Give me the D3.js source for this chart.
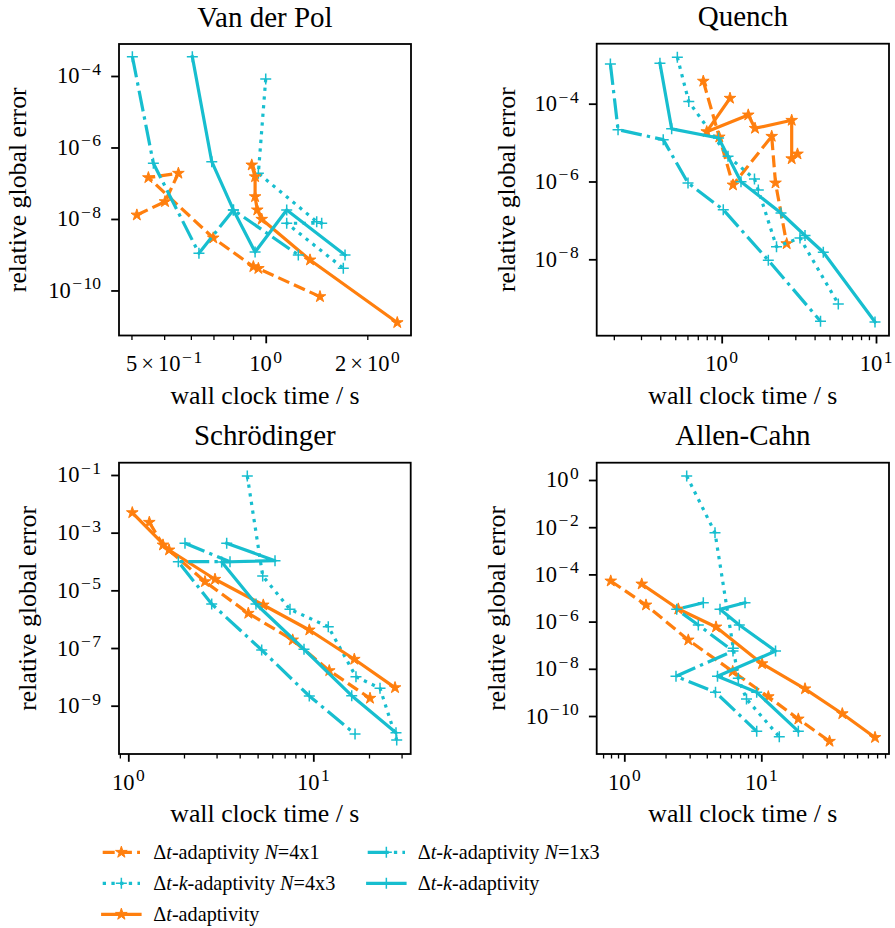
<!DOCTYPE html>
<html>
<head>
<meta charset="utf-8">
<script src="https://cdn.jsdelivr.net/npm/d3@7"></script>
<style>
  body { margin: 0; background: #fff; }
  svg { display: block; }
</style>
</head>
<body>
<svg id="fig" width="895" height="928" font-family="'Liberation Serif', 'DejaVu Serif', serif"></svg>
<script>
// ---- data: [wall clock time (s), relative global error] per method ----
// Van der Pol
const vdpDt4x1   = [[0.415,1.29e-8],[0.503,3.05e-8],[0.551,1.90e-7],[0.449,1.43e-7],[0.699,2.94e-9],[0.919,4.63e-10],[0.951,4.12e-10],[1.448,6.71e-11]];
const vdpDtk4x3  = [[1.0,8.24e-5],[0.951,1.90e-7],[1.416,8.4e-9],[1.465,7.58e-9],[1.154,7.58e-9],[1.698,4.18e-10]];
const vdpDt      = [[0.909,3.24e-7],[0.930,1.52e-7],[0.930,4.21e-8],[0.944,1.79e-8],[0.973,9.82e-9],[1.353,7.13e-10],[2.454,1.26e-11]];
const vdpDtk1x3  = [[0.4025,3.47e-4],[0.4645,3.61e-7],[0.634,1.10e-9],[0.802,1.79e-8],[1.249,9.84e-10]];
const vdpDtk     = [[0.606,3.47e-4],[0.692,4.01e-7],[0.802,1.79e-8],[0.930,1.19e-9],[1.154,1.79e-8],[1.718,9.84e-10]];
// Quench
const quenchDt4x1  = [[0.760,3.79e-4],[0.965,1.39e-5],[1.184,8.13e-7],[2.109,1.45e-5],[2.232,9.15e-7],[2.638,2.52e-8]];
const quenchDtk4x3 = [[0.516,1.56e-3],[0.612,1.13e-4],[1.099,4.45e-6],[1.631,1.16e-6],[1.727,6.04e-7],[2.266,2.11e-8],[3.217,3.53e-8],[5.697,7.10e-10]];
const quenchDt     = [[1.132,1.38e-4],[0.800,1.91e-5],[1.487,5.13e-5],[1.644,2.33e-5],[2.842,3.74e-5],[2.842,3.84e-6],[3.099,5.09e-6]];
const quenchDtk1x3 = [[0.190,1.05e-3],[0.213,2.15e-5],[0.418,1.19e-5],[0.605,9.15e-7],[1.024,1.88e-7],[2.005,9.42e-9],[4.369,2.56e-10]];
const quenchDtk    = [[0.398,1.09e-3],[0.474,2.26e-5],[0.955,1.31e-5],[1.334,9.88e-7],[2.423,1.55e-7],[3.467,4.09e-8],[4.555,1.52e-8],[9.851,2.44e-10]];
// Schrödinger
const schrDt4x1  = [[1.299,2.29e-3],[1.540,3.74e-4],[2.597,2.00e-5],[4.453,1.60e-6],[7.737,1.90e-7],[12.20,1.64e-8],[20.25,1.81e-9]];
const schrDtk4x3 = [[4.398,9.23e-2],[5.327,3.15e-5],[7.482,2.20e-6],[12.05,5.49e-7],[17.01,1.01e-8],[22.94,4.02e-9],[28.24,6.47e-11]];
const schrDt     = [[1.051,4.93e-3],[1.660,2.51e-4],[2.942,2.42e-5],[5.366,3.10e-6],[9.515,4.22e-7],[16.66,4.07e-8],[27.65,4.22e-9]];
const schrDtk1x3 = [[2.025,4.29e-4],[3.546,9.86e-5],[1.864,9.86e-5],[2.824,3.37e-6],[5.260,8.55e-8],[9.515,2.17e-9],[16.81,1.04e-10]];
const schrDtk    = [[3.403,4.29e-4],[6.209,1.07e-4],[3.198,9.62e-5],[4.900,3.37e-6],[8.907,9.04e-8],[16.13,2.22e-9],[27.99,1.16e-10]];
// Allen-Cahn
const acDt4x1  = [[0.796,5.25e-5],[1.440,5.05e-6],[2.932,1.66e-7],[6.183,7.7e-9],[11.25,6.58e-10],[18.63,7.46e-11],[31.47,8.47e-12]];
const acDtk4x3 = [[2.854,1.48],[4.592,5.85e-3],[6.246,7.39e-8],[6.794,3.95e-9],[7.798,5.25e-10],[13.53,1.33e-11]];
const acDt     = [[1.340,3.92e-5],[2.479,3.42e-6],[4.670,5.91e-7],[10.12,1.64e-8],[20.84,1.42e-9],[39.01,1.25e-10],[67.60,1.23e-11]];
const acDtk1x3 = [[3.773,6.32e-6],[2.413,3.32e-6],[3.469,7.18e-7],[6.215,5.68e-8],[2.384,4.81e-9],[4.631,1.01e-9],[9.256,2.25e-11]];
const acDtk    = [[7.603,6.32e-6],[4.995,3.32e-6],[6.910,7.18e-7],[12.70,5.68e-8],[4.790,4.81e-9],[9.256,1.01e-9],[18.63,2.25e-11]];

// ---- tick values ----
const vdpXMajor = [1], vdpXMinor = [0.4,0.5,0.6,0.7,0.8,0.9,2], vdpXMinorLabeled = [0.5,2];
const vdpYTicks = [1e-4,1e-6,1e-8,1e-10];
const quenchXMajor = [1,10], quenchXMinor = [0.2,0.3,0.4,0.5,0.6,0.7,0.8,0.9,2,3,4,5,6,7,8,9];
const quenchYTicks = [1e-4,1e-6,1e-8];
const schrXMajor = [1,10], schrXMinor = [0.9,2,3,4,5,6,7,8,9,20,30];
const schrYTicks = [1e-1,1e-3,1e-5,1e-7,1e-9];
const acXMajor = [1,10], acXMinor = [0.7,0.8,0.9,2,3,4,5,6,7,8,9,20,30,40,50,60,70,80];
const acYTicks = [1,1e-2,1e-4,1e-6,1e-8,1e-10];

// ---- legend labels (rich text: i = italic) ----
const legendLabels = [
  [{t:"Δ"},{t:"t",i:1},{t:"-adaptivity "},{t:"N",i:1},{t:"=4x1"}],
  [{t:"Δ"},{t:"t",i:1},{t:"-"},{t:"k",i:1},{t:"-adaptivity "},{t:"N",i:1},{t:"=4x3"}],
  [{t:"Δ"},{t:"t",i:1},{t:"-adaptivity"}],
  [{t:"Δ"},{t:"t",i:1},{t:"-"},{t:"k",i:1},{t:"-adaptivity "},{t:"N",i:1},{t:"=1x3"}],
  [{t:"Δ"},{t:"t",i:1},{t:"-"},{t:"k",i:1},{t:"-adaptivity"}]
];

// ---- styling of the five methods ----
const ORANGE = "#ff7f0e", CYAN = "#17becf";
const LW = 3.2;
const styles = [
  {color: ORANGE, dash: "12,5.2", marker: "star"},
  {color: CYAN,   dash: "3.3,5.4", marker: "plus"},
  {color: ORANGE, dash: null, marker: "star"},
  {color: CYAN,   dash: "21,5.2,3.3,5.2", marker: "plus"},
  {color: CYAN,   dash: null, marker: "plus"}
];

// ---- panel layout ----
const panels = [
  {title: "Van der Pol", series: [vdpDt4x1, vdpDtk4x3, vdpDt, vdpDtk1x3, vdpDtk],
   left: 119, top: 44, w: 292, h: 291.5,
   xDom: [0.3674, 2.695], yDom: [Math.pow(10,-11.26), Math.pow(10,-3.105)],
   xMajor: vdpXMajor, xMinor: vdpXMinor, xMinorLabeled: vdpXMinorLabeled, yTicks: vdpYTicks, yLabelX: 17},
  {title: "Quench", series: [quenchDt4x1, quenchDtk4x3, quenchDt, quenchDtk1x3, quenchDtk],
   left: 596.7, top: 43.7, w: 292.3, h: 292,
   xDom: [0.1549, 12.14], yDom: [Math.pow(10,-9.964), Math.pow(10,-2.458)],
   xMajor: quenchXMajor, xMinor: quenchXMinor, xMinorLabeled: [], yTicks: quenchYTicks, yLabelX: 506.5},
  {title: "Schrödinger", series: [schrDt4x1, schrDtk4x3, schrDt, schrDtk1x3, schrDtk],
   left: 119, top: 462.7, w: 291.7, h: 291.3,
   xDom: [0.8907, 33.61], yDom: [Math.pow(10,-10.675), Math.pow(10,-0.574)],
   xMajor: schrXMajor, xMinor: schrXMinor, xMinorLabeled: [], yTicks: schrYTicks, yLabelX: 27.7},
  {title: "Allen-Cahn", series: [acDt4x1, acDtk4x3, acDt, acDtk1x3, acDtk],
   left: 596.7, top: 462.7, w: 292.3, h: 291.3,
   xDom: [0.6289, 85.5], yDom: [Math.pow(10,-11.61), Math.pow(10,0.733)],
   xMajor: acXMajor, xMinor: acXMinor, xMinorLabeled: [], yTicks: acYTicks, yLabelX: 496}
];

const svg = d3.select("#fig");
const FONT = "'Liberation Serif', 'DejaVu Serif', serif";
const TICK_FS = 22.5, SUP_FS = 17.5, LABEL_FS = 25.8, TITLE_FS = 29, LEGEND_FS = 20.2;

// writes "10^e" or "m × 10^e" with a raised exponent
function sciLabel(sel, v) {
  const e = Math.floor(Math.log10(v) + 1e-9);
  const m = Math.round(v / Math.pow(10, e));
  if (m !== 1) {
    sel.append("tspan").text(m);
    sel.append("tspan").attr("dx", 4).text("×");
    sel.append("tspan").attr("dx", 4).text("10");
  } else {
    sel.append("tspan").text("10");
  }
  if (e < 0) {
    sel.append("tspan").attr("dx", 1.5).attr("dy", -8.5).attr("font-size", SUP_FS).text("−");
    sel.append("tspan").attr("dx", 1.5).attr("font-size", SUP_FS).text(String(-e));
  } else {
    sel.append("tspan").attr("dx", 1.5).attr("dy", -8.5).attr("font-size", SUP_FS).text(String(e));
  }
}
function txt(parent) { return parent.append("text").attr("font-family", FONT).attr("fill", "#000"); }

function starPath() { return d3.symbol().type(d3.symbolStar).size(42)(); }
const plusPath = "M-5.5,0H5.5M0,-5.5V5.5";

panels.forEach(p => {
  const x = d3.scaleLog().domain(p.xDom).range([p.left, p.left + p.w]);
  const y = d3.scaleLog().domain(p.yDom).range([p.top + p.h, p.top]);
  const g = svg.append("g");

  // ticks (outward, left and bottom)
  const bottom = p.top + p.h;
  const axMinor = g.append("g").attr("transform", `translate(0,${bottom})`)
    .call(d3.axisBottom(x).tickValues(p.xMinor).tickSize(4.5).tickFormat(""));
  axMinor.selectAll("line").attr("stroke-width", 1.3);
  const axMajor = g.append("g").attr("transform", `translate(0,${bottom})`)
    .call(d3.axisBottom(x).tickValues(p.xMajor).tickSize(7.8).tickFormat(""));
  axMajor.selectAll("line").attr("stroke-width", 1.8);
  const ayMajor = g.append("g").attr("transform", `translate(${p.left},0)`)
    .call(d3.axisLeft(y).tickValues(p.yTicks).tickSize(7.8).tickFormat(""));
  ayMajor.selectAll("line").attr("stroke-width", 1.8);
  g.selectAll(".domain").remove();

  // tick labels
  p.xMajor.concat(p.xMinorLabeled).forEach(v => {
    const t = txt(g).attr("x", x(v)).attr("y", bottom + 35.5)
      .attr("text-anchor", "middle").attr("font-size", TICK_FS);
    sciLabel(t, v);
  });
  p.yTicks.forEach(v => {
    const t = txt(g).attr("x", p.left - 18).attr("y", y(v) + 7.5)
      .attr("text-anchor", "end").attr("font-size", TICK_FS);
    sciLabel(t, v);
  });

  // title and axis labels
  txt(g).attr("x", p.left + p.w / 2).attr("y", p.top - 17.5)
    .attr("text-anchor", "middle").attr("font-size", TITLE_FS).text(p.title);
  txt(g).attr("x", p.left + p.w / 2).attr("y", bottom + 68)
    .attr("text-anchor", "middle").attr("font-size", LABEL_FS).text("wall clock time / s");
  txt(g).attr("transform", `translate(${p.yLabelX},${p.top + p.h / 2}) rotate(-90)`)
    .attr("text-anchor", "middle").attr("dominant-baseline", "central")
    .attr("font-size", LABEL_FS).text("relative global error");

  // data lines with markers
  const line = d3.line().x(d => x(d[0])).y(d => y(d[1]));
  p.series.forEach((data, i) => {
    const s = styles[i];
    g.append("path").datum(data).attr("d", line)
      .attr("fill", "none").attr("stroke", s.color).attr("stroke-width", LW)
      .attr("stroke-dasharray", s.dash)
      .attr("stroke-linecap", s.dash ? "butt" : "square")
      .attr("stroke-linejoin", "round");
    const mk = g.append("g");
    data.forEach(d => {
      if (s.marker === "star") {
        mk.append("path").attr("d", starPath())
          .attr("transform", `translate(${x(d[0])},${y(d[1])})`)
          .attr("fill", s.color).attr("stroke", s.color).attr("stroke-width", 1);
      } else {
        mk.append("path").attr("d", plusPath)
          .attr("transform", `translate(${x(d[0])},${y(d[1])})`)
          .attr("fill", "none").attr("stroke", s.color).attr("stroke-width", 1.5);
      }
    });
  });

  // axes frame
  g.append("rect").attr("x", p.left).attr("y", p.top).attr("width", p.w).attr("height", p.h)
    .attr("fill", "none").attr("stroke", "#000").attr("stroke-width", 1.8);
});

// ---- legend (two columns, column-major order) ----
const legendPos = [
  {hx: 102.7, tx: 153.3, y: 852.3},
  {hx: 102.7, tx: 153.3, y: 883.3},
  {hx: 102.7, tx: 153.3, y: 914.3},
  {hx: 367.7, tx: 417.7, y: 852.3},
  {hx: 367.7, tx: 417.7, y: 883.3}
];
const lg = svg.append("g");
legendLabels.forEach((lab, i) => {
  const s = styles[i], pos = legendPos[i];
  const hs = d3.scaleLinear().domain([0, 1]).range([pos.hx, pos.hx + 37.3]);
  lg.append("path").datum([0, 1])
    .attr("d", d3.line().x(d => hs(d)).y(() => pos.y))
    .attr("stroke", s.color).attr("stroke-width", LW).attr("fill", "none")
    .attr("stroke-dasharray", s.dash).attr("stroke-linecap", s.dash ? "butt" : "square");
  const cx = hs(0.5);
  if (s.marker === "star") {
    lg.append("path").attr("d", starPath()).attr("transform", `translate(${cx},${pos.y})`)
      .attr("fill", s.color).attr("stroke", s.color).attr("stroke-width", 1);
  } else {
    lg.append("path").attr("d", plusPath).attr("transform", `translate(${cx},${pos.y})`)
      .attr("fill", "none").attr("stroke", s.color).attr("stroke-width", 1.5);
  }
  const t = txt(lg).attr("x", pos.tx).attr("y", pos.y + 6.5).attr("font-size", LEGEND_FS);
  lab.forEach(seg => {
    t.append("tspan").attr("font-style", seg.i ? "italic" : null).text(seg.t);
  });
});
</script>
</body>
</html>
